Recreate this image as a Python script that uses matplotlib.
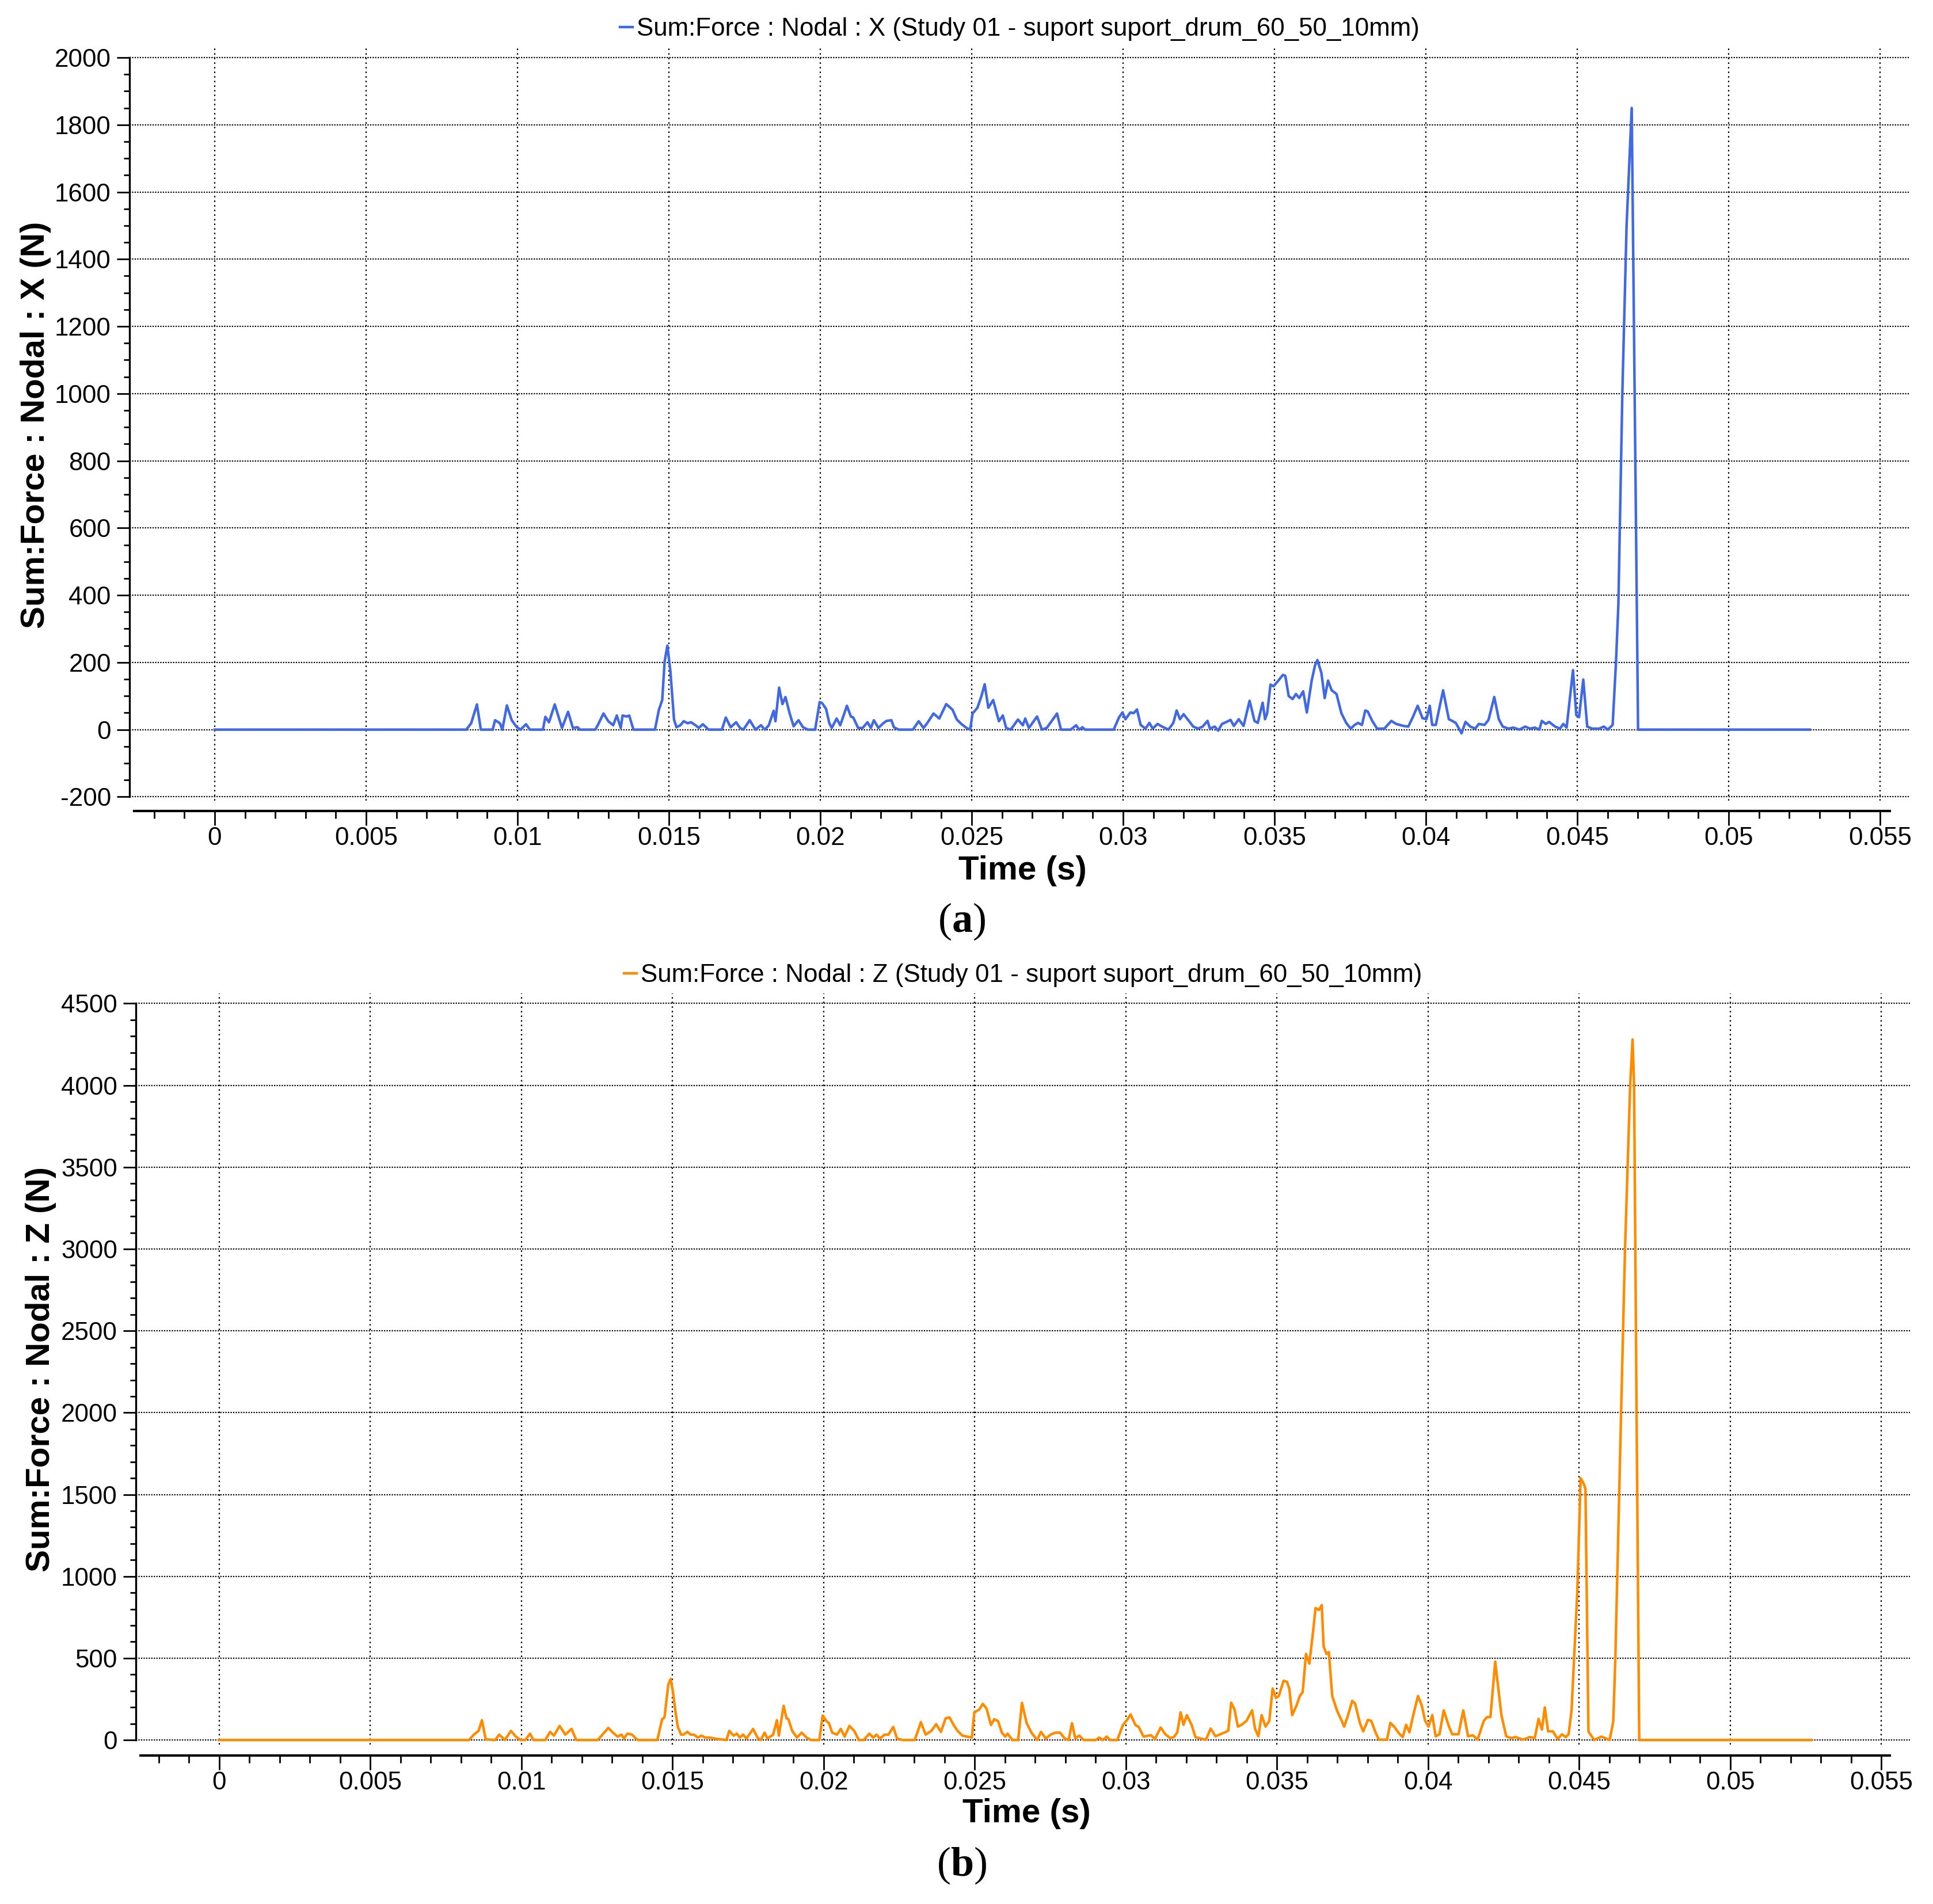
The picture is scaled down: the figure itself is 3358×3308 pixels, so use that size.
import matplotlib
matplotlib.use('Agg')
from matplotlib import pyplot as plt
from matplotlib.ticker import MultipleLocator

# (time s, force N)
force_x_pts = [
    (0, 0), (0.00831, 0), (0.00847, 19), (0.00866, 75), (0.00879, 0), (0.00918, 0), (0.00926, 28),
    (0.00942, 19), (0.00950, 0), (0.00965, 72), (0.00981, 28), (0.00997, 8), (0.01010, 0), (0.01028, 16),
    (0.01041, 0), (0.01084, 0), (0.01092, 38), (0.01104, 22), (0.01123, 75), (0.01147, 5), (0.01167, 53),
    (0.01183, 5), (0.01199, 7), (0.01205, 0), (0.01257, 0), (0.01265, 13), (0.01284, 48), (0.01300, 25),
    (0.01316, 13), (0.01328, 42), (0.01341, 5), (0.01347, 42), (0.01360, 39), (0.01369, 42), (0.01383, 0),
    (0.01454, 0), (0.01467, 59), (0.01478, 88), (0.01486, 203), (0.01495, 250), (0.01505, 174), (0.01517, 30),
    (0.01525, 7), (0.01538, 13), (0.01549, 25), (0.01562, 19), (0.01573, 22), (0.01588, 13), (0.01599, 5),
    (0.01612, 16), (0.01623, 7), (0.01631, 0), (0.01675, 0), (0.01688, 36), (0.01704, 7), (0.01722, 22),
    (0.01735, 5), (0.01746, 0), (0.01767, 28), (0.01786, 0), (0.01804, 13), (0.01817, 0), (0.01830, 13),
    (0.01846, 56), (0.01852, 25), (0.01864, 125), (0.01875, 76), (0.01885, 97), (0.01899, 48), (0.01912, 10),
    (0.01928, 28), (0.01943, 7), (0.01959, 0), (0.01983, 0), (0.01998, 82), (0.02006, 79), (0.02019, 62),
    (0.02030, 19), (0.02038, 5), (0.02054, 33), (0.02066, 13), (0.02088, 71), (0.02101, 39), (0.02109, 36),
    (0.02125, 5), (0.02140, 5), (0.02156, 22), (0.02167, 5), (0.02177, 28), (0.02192, 5), (0.02208, 19),
    (0.02219, 26), (0.02235, 28), (0.02243, 7), (0.02259, 0), (0.02306, 0), (0.02325, 25), (0.02341, 5),
    (0.02353, 19), (0.02374, 48), (0.02393, 33), (0.02416, 76), (0.02437, 59), (0.02451, 30), (0.02467, 16),
    (0.02483, 5), (0.02495, 0), (0.02503, 48), (0.02519, 65), (0.02532, 99), (0.02543, 135), (0.02555, 65),
    (0.02571, 88), (0.02590, 25), (0.02603, 42), (0.02614, 5), (0.02629, 0), (0.02653, 30), (0.02669, 13),
    (0.02677, 33), (0.02689, 5), (0.02716, 39), (0.02732, 0), (0.02748, 5), (0.02782, 48), (0.02795, 0),
    (0.02827, 0), (0.02845, 13), (0.02855, 0), (0.02866, 7), (0.02874, 0), (0.02969, 0), (0.02987, 37),
    (0.02998, 51), (0.03008, 31), (0.03024, 51), (0.03035, 49), (0.03046, 60), (0.03058, 14), (0.03074, 3),
    (0.03087, 20), (0.03098, 3), (0.03114, 17), (0.03129, 9), (0.03150, 0), (0.03166, 20), (0.03177, 57),
    (0.03188, 31), (0.03200, 46), (0.03213, 31), (0.03232, 9), (0.03248, 3), (0.03263, 9), (0.03279, 26),
    (0.03287, 3), (0.03303, 9), (0.03314, -3), (0.03327, 17), (0.03342, 23), (0.03355, 29), (0.03366, 11),
    (0.03382, 31), (0.03398, 11), (0.03418, 86), (0.03434, 26), (0.03445, 20), (0.03461, 80), (0.03469, 31),
    (0.03476, 49), (0.03487, 134), (0.03497, 129), (0.03513, 146), (0.03528, 163), (0.03536, 160),
    (0.03547, 100), (0.03560, 91), (0.03571, 106), (0.03582, 94), (0.03595, 114), (0.03607, 51),
    (0.03623, 146), (0.03634, 191), (0.03642, 207), (0.03655, 169), (0.03666, 94), (0.03677, 146),
    (0.03689, 117), (0.03705, 106), (0.03721, 49), (0.03737, 20), (0.03752, 3), (0.03765, 14), (0.03776, 20),
    (0.03789, 14), (0.03800, 57), (0.03808, 54), (0.03823, 26), (0.03839, 3), (0.03863, 3), (0.03886, 26),
    (0.03902, 17), (0.03926, 11), (0.03942, 9), (0.03957, 37), (0.03973, 71), (0.03989, 34), (0.04002, 31),
    (0.04013, 71), (0.04021, 14), (0.04033, 14), (0.04057, 117), (0.04076, 31), (0.04087, 26), (0.04099, 20),
    (0.04118, -11), (0.04131, 23), (0.04147, 9), (0.04163, 3), (0.04175, 17), (0.04194, 14), (0.04207, 29),
    (0.04226, 97), (0.04241, 31), (0.04254, 9), (0.04273, 3), (0.04289, 6), (0.04309, 0), (0.04328, 9),
    (0.04344, 3), (0.04360, 6), (0.04375, 0), (0.04383, 26), (0.04396, 17), (0.04407, 23), (0.04427, 9),
    (0.04443, 3), (0.04454, 17), (0.04465, 6), (0.04486, 177), (0.04497, 43), (0.04506, 37), (0.04520, 149),
    (0.04533, 9), (0.04549, 3), (0.04573, 3), (0.04588, 9), (0.04601, 0), (0.04617, 14), (0.04628, 200),
    (0.04636, 374), (0.04649, 1000), (0.04663, 1500), (0.04680, 1850), (0.04701, 0), (0.05268, 0),
]

force_z_pts = [
    (0, 0), (0.008265, 0), (0.008423, 33), (0.008580, 56), (0.008691, 121), (0.008817, 4), (0.009132, 0),
    (0.009259, 33), (0.009369, 15), (0.009448, 0), (0.009653, 56), (0.009811, 21), (0.009968, 0),
    (0.010126, 0), (0.010284, 39), (0.010394, 0), (0.010789, 0), (0.010946, 50), (0.011073, 27),
    (0.011262, 86), (0.011451, 33), (0.011656, 68), (0.011814, 0), (0.012524, 0), (0.012681, 33),
    (0.012871, 74), (0.013028, 45), (0.013186, 21), (0.013312, 33), (0.013391, 9), (0.013502, 39),
    (0.013659, 33), (0.013786, 9), (0.013864, 0), (0.014495, 0), (0.014653, 127), (0.014732, 138),
    (0.014858, 338), (0.014937, 373), (0.015016, 291), (0.015095, 174), (0.015174, 80), (0.015284, 33),
    (0.015363, 33), (0.015489, 50), (0.015599, 33), (0.015710, 33), (0.015836, 15), (0.015962, 27),
    (0.016073, 15), (0.016230, 15), (0.016388, 9), (0.016782, 0), (0.016877, 56), (0.017019, 27),
    (0.017129, 39), (0.017224, 15), (0.017335, 33), (0.017445, 9), (0.017666, 68), (0.017808, 15),
    (0.017918, 0), (0.018044, 45), (0.018139, 9), (0.018328, 33), (0.018454, 121), (0.018517, 27),
    (0.018675, 209), (0.018770, 133), (0.018833, 127), (0.018959, 56), (0.019117, 15), (0.019275, 45),
    (0.019432, 15), (0.019590, 0), (0.019858, 0), (0.019968, 150), (0.020095, 115), (0.020174, 103),
    (0.020284, 45), (0.020442, 33), (0.020568, 68), (0.020694, 21), (0.020852, 86), (0.021010, 56),
    (0.021167, 0), (0.021325, 0), (0.021514, 39), (0.021640, 15), (0.021751, 33), (0.021861, 9),
    (0.022019, 33), (0.022145, 33), (0.022303, 80), (0.022429, 9), (0.022618, 0), (0.023013, 0),
    (0.023218, 109), (0.023376, 33), (0.023565, 56), (0.023723, 97), (0.023880, 50), (0.024038, 133),
    (0.024164, 138), (0.024322, 86), (0.024432, 56), (0.024590, 27), (0.024748, 21), (0.024905, 15),
    (0.024984, 168), (0.025142, 185), (0.025268, 221), (0.025394, 191), (0.025536, 92), (0.025647, 127),
    (0.025773, 115), (0.025899, 45), (0.026009, 21), (0.026088, 39), (0.026246, 0), (0.026435, 0),
    (0.026562, 227), (0.026719, 103), (0.026798, 74), (0.026877, 45), (0.027066, 0), (0.027192, 50),
    (0.027350, 9), (0.027508, 33), (0.027666, 45), (0.027823, 45), (0.027981, 9), (0.028107, 0),
    (0.028218, 103), (0.028328, 9), (0.028454, 27), (0.028612, 0), (0.029006, 0), (0.029117, 15),
    (0.029243, 0), (0.029369, 21), (0.029480, 0), (0.029717, 0), (0.029905, 92), (0.030032, 121),
    (0.030158, 156), (0.030316, 92), (0.030427, 80), (0.030584, 21), (0.030742, 27), (0.030836, 29),
    (0.030962, 6), (0.031151, 76), (0.031309, 35), (0.031467, 12), (0.031593, 18), (0.031703, 47),
    (0.031814, 169), (0.031908, 93), (0.032019, 152), (0.032177, 93), (0.032303, 18), (0.032413, 12),
    (0.032650, 2), (0.032808, 70), (0.032965, 23), (0.033123, 35), (0.033281, 47), (0.033391, 58),
    (0.033486, 228), (0.033596, 187), (0.033707, 82), (0.033833, 93), (0.033991, 117), (0.034180, 181),
    (0.034274, 70), (0.034385, 23), (0.034495, 152), (0.034621, 82), (0.034748, 117), (0.034858, 315),
    (0.034968, 257), (0.035063, 269), (0.035221, 362), (0.035331, 356), (0.035410, 315), (0.035505, 152),
    (0.035647, 210), (0.035757, 269), (0.035852, 292), (0.035962, 526), (0.036073, 467), (0.036199, 666),
    (0.036278, 806), (0.036388, 794), (0.036483, 824), (0.036546, 572), (0.036640, 526), (0.036719, 537),
    (0.036830, 269), (0.036987, 181), (0.037145, 117), (0.037224, 82), (0.037334, 140), (0.037492, 239),
    (0.037587, 222), (0.037745, 105), (0.037855, 53), (0.038013, 123), (0.038123, 117), (0.038249, 53),
    (0.038375, 2), (0.038644, 2), (0.038754, 105), (0.038880, 82), (0.039038, 41), (0.039164, 18),
    (0.039275, 93), (0.039385, 47), (0.039511, 152), (0.039669, 269), (0.039795, 210), (0.039905, 117),
    (0.040016, 82), (0.040142, 152), (0.040252, 23), (0.040379, 35), (0.040520, 181), (0.040694, 82),
    (0.040804, 35), (0.041009, 35), (0.041167, 181), (0.041325, 23), (0.041483, 29), (0.041641, 2),
    (0.041845, 117), (0.041956, 140), (0.042066, 140), (0.042224, 479), (0.042429, 152), (0.042587, 23),
    (0.042745, 12), (0.042902, 18), (0.043139, 2), (0.043376, 18), (0.043533, 12), (0.043659, 129),
    (0.043770, 64), (0.043865, 199), (0.043975, 53), (0.044133, 53), (0.044291, 6), (0.044433, 35),
    (0.044559, 18), (0.044653, 35), (0.04475, 180), (0.04494, 900), (0.04505, 1600), (0.04515, 1567),
    (0.04521, 1536), (0.04531, 52), (0.04550, 0), (0.04574, 21), (0.04601, 0), (0.04613, 112),
    (0.04620, 500), (0.04639, 2000), (0.04652, 3000), (0.04669, 4000), (0.04677, 4280), (0.04682, 4000),
    (0.04690, 2050), (0.04699, 0), (0.05268, 0),
]

x_ticks = [0, 0.005, 0.01, 0.015, 0.02, 0.025, 0.03, 0.035, 0.04, 0.045, 0.05, 0.055]
x_tick_labels = ['0', '0.005', '0.01', '0.015', '0.02', '0.025', '0.03', '0.035', '0.04', '0.045', '0.05', '0.055']
y_ticks_x = [-200, 0, 200, 400, 600, 800, 1000, 1200, 1400, 1600, 1800, 2000]
y_ticks_z = [0, 500, 1000, 1500, 2000, 2500, 3000, 3500, 4000, 4500]

legend_x = 'Sum:Force : Nodal : X (Study 01 - suport suport_drum_60_50_10mm)'
legend_z = 'Sum:Force : Nodal : Z (Study 01 - suport suport_drum_60_50_10mm)'
ylabel_x = 'Sum:Force : Nodal : X (N)'
ylabel_z = 'Sum:Force : Nodal : Z (N)'

plt.rcParams['font.family'] = ['Liberation Sans', 'DejaVu Sans']
plt.rcParams['axes.unicode_minus'] = False
plt.rcParams['mathtext.fontset'] = 'custom'
plt.rcParams['mathtext.rm'] = 'Liberation Serif'
plt.rcParams['mathtext.bf'] = 'Liberation Serif:bold'

fs_tick = 15.8
fs_label = 21

fig = plt.figure(figsize=(16.79, 16.54), dpi=200)


def panel(rect, pts, color, legend, yticks, yminor, ylim, xlim, xbounds, spine_off):
    ax = fig.add_axes(rect)
    t = [p[0] for p in pts]
    v = [p[1] for p in pts]
    line, = ax.plot(t, v, color=color, lw=1.6, zorder=3)
    ax.set_xlim(*xlim)
    ax.set_ylim(*ylim)
    ax.set_xticks(x_ticks, x_tick_labels)
    ax.set_yticks(yticks, [str(y) for y in yticks])
    ax.xaxis.set_minor_locator(MultipleLocator(0.001))
    ax.yaxis.set_minor_locator(MultipleLocator(yminor))
    ax.spines['top'].set_visible(False)
    ax.spines['right'].set_visible(False)
    ax.spines['left'].set_bounds(yticks[0], yticks[-1])
    ax.spines['left'].set_linewidth(1.2)
    ax.spines['bottom'].set_position(('outward', spine_off))
    ax.spines['bottom'].set_bounds(*xbounds)
    ax.spines['bottom'].set_linewidth(1.5)
    ax.tick_params(axis='x', which='major', length=9, width=1.0, pad=0.5, labelsize=fs_tick)
    ax.tick_params(axis='x', which='minor', length=4.5, width=1.0)
    ax.tick_params(axis='y', which='major', length=7.8, width=1.0, pad=3.8, labelsize=fs_tick)
    ax.tick_params(axis='y', which='minor', length=3.7, width=1.0)
    ax.set_axisbelow(True)
    ax.xaxis.grid(True, which='major', color='black', lw=0.8, linestyle=(0, (1.2, 2.4)))
    ax.yaxis.grid(True, which='major', color='black', lw=0.8, linestyle=(0, (1.0, 1.0)))
    ax.legend([line], [legend], loc='center', bbox_to_anchor=(0.5, 1.024), frameon=False,
              handlelength=0.5, handletextpad=0.15, fontsize=fs_tick, borderpad=0, borderaxespad=0)
    return ax


ax1 = panel([0.0670, 0.57938, 0.92109, 0.39586], force_x_pts, '#4169e1', legend_x,
            y_ticks_x, 50, (-212, 2031), (-0.002814, 0.05599), (-0.00266, 0.05532), 6.5)
ax2 = panel([0.07028, 0.0838, 0.91781, 0.3944], force_z_pts, '#ff8c00', legend_z,
            y_ticks_z, 100, (-27, 4561), (-0.002762, 0.05595), (-0.00261, 0.05529), 7)

fig.text(0.0185, 0.7767, ylabel_x, rotation=90, ha='center', va='center', fontsize=fs_label, fontweight='bold')
fig.text(0.0211, 0.2809, ylabel_z, rotation=90, ha='center', va='center', fontsize=fs_label, fontweight='bold')
fig.text(0.529, 0.5425, 'Time (s)', ha='center', va='center', fontsize=fs_label, fontweight='bold')
fig.text(0.5311, 0.0474, 'Time (s)', ha='center', va='center', fontsize=fs_label, fontweight='bold')
fig.text(0.4975, 0.5159, r'$(\mathbf{a})$', ha='center', va='center', fontsize=26)
fig.text(0.4975, 0.0201, r'$(\mathbf{b})$', ha='center', va='center', fontsize=26)

fig.savefig('out.png', dpi=200, facecolor='white')
